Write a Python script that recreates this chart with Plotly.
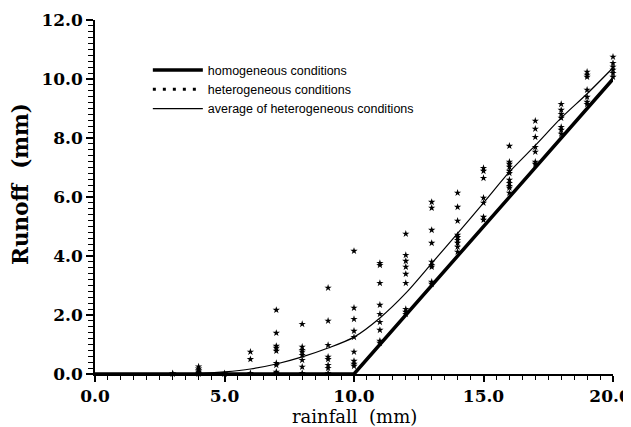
import plotly.graph_objects as go

# Homogeneous conditions (threshold response)
homog_rainfall = [0, 10, 20]
homog_runoff = [0.0, 0.0, 10.0]

# Average of heterogeneous conditions
avg_rainfall = [0, 1, 2, 3, 4, 5, 6, 7, 8, 9, 10, 11, 12, 13, 14, 15, 16, 17, 18, 19, 20]
avg_runoff = [0.0, 0.0, 0.0, 0.0, 0.01, 0.07, 0.17, 0.34, 0.58, 0.88, 1.25, 1.9, 2.74,
              3.75, 4.77, 5.8, 6.85, 7.75, 8.68, 9.5, 10.38]

# Heterogeneous conditions (individual simulations)
het_rainfall = (
    [3, 3]
    + [4] * 6
    + [5] * 2
    + [6] * 3
    + [7] * 9
    + [8] * 8
    + [9] * 8
    + [10] * 9
    + [11] * 9
    + [12] * 9
    + [13] * 9
    + [14] * 9
    + [15] * 7
    + [16] * 11
    + [17] * 7
    + [18] * 7
    + [19] * 7
    + [20] * 6
)
het_runoff = (
    [0.0, 0.02]
    + [0.25, 0.18, 0.12, 0.07, 0.03, 0.0]
    + [0.02, 0.0]
    + [0.75, 0.5, 0.03]
    + [2.17, 1.39, 0.95, 0.88, 0.78, 0.37, 0.3, 0.07, 0.03]
    + [1.69, 0.92, 0.81, 0.75, 0.64, 0.47, 0.24, 0.03]
    + [2.92, 1.8, 0.98, 0.58, 0.5, 0.3, 0.2, 0.03]
    + [4.17, 2.24, 1.86, 1.46, 1.25, 0.75, 0.44, 0.34, 0.27]
    + [3.76, 3.69, 3.08, 2.34, 2.03, 1.76, 1.49, 1.12, 1.05]
    + [4.75, 4.03, 3.83, 3.63, 3.39, 3.08, 2.2, 2.1, 2.03]
    + [5.83, 5.63, 4.88, 4.44, 3.8, 3.69, 3.63, 3.12, 3.05]
    + [6.14, 5.66, 5.19, 4.71, 4.64, 4.54, 4.44, 4.31, 4.14]
    + [6.98, 6.88, 6.64, 5.97, 5.8, 5.32, 5.22]
    + [7.73, 7.19, 7.12, 7.02, 6.88, 6.81, 6.58, 6.47, 6.37, 6.31, 6.14]
    + [8.58, 8.31, 8.03, 7.69, 7.53, 7.19, 7.12]
    + [9.15, 8.95, 8.81, 8.68, 8.37, 8.27, 8.14]
    + [10.24, 10.14, 10.07, 9.63, 9.39, 9.22, 9.15]
    + [10.75, 10.54, 10.41, 10.31, 10.2, 10.07]
)

x_ticks = [0, 5, 10, 15, 20]
x_tick_labels = ["0.0", "5.0", "10.0", "15.0", "20.0\u00a0"]
y_ticks = [0, 2, 4, 6, 8, 10, 12]
y_tick_labels = ["0.0", "2.0", "4.0", "6.0", "8.0", "10.0", "12.0"]

x_title = "rainfall  (mm)"
y_title = "Runoff  (mm)"

fig = go.Figure()

fig.add_trace(go.Scatter(
    x=homog_rainfall, y=homog_runoff, mode="lines",
    line=dict(color="black", width=3.5),
    name="homogeneous conditions", cliponaxis=False,
))
# legend-only entry mimicking a row of stars
fig.add_trace(go.Scatter(
    x=[None], y=[None], mode="lines",
    line=dict(color="black", width=3, dash="3px,7px"),
    name="heterogeneous conditions",
))
fig.add_trace(go.Scatter(
    x=avg_rainfall, y=avg_runoff, mode="lines",
    line=dict(color="black", width=1.2, shape="spline", smoothing=0.8),
    name="average of heterogeneous conditions", cliponaxis=False,
))
fig.add_trace(go.Scatter(
    x=het_rainfall, y=het_runoff, mode="markers",
    marker=dict(symbol="star", size=5.5, color="black"),
    name="heterogeneous conditions", showlegend=False, cliponaxis=False,
))

# The page body has an 8px margin, so the figure is 8px smaller than the window
fig.update_layout(
    width=623, height=419,
    margin=dict(l=87, r=18, t=12, b=53),
    paper_bgcolor="white", plot_bgcolor="white",
    showlegend=True,
    legend=dict(
        x=0.102, y=0.9, xanchor="left", yanchor="top",
        font=dict(family="Liberation Sans, Arial, sans-serif", size=12.5, color="black"),
        bgcolor="rgba(0,0,0,0)", itemwidth=50, tracegroupgap=0,
    ),
    xaxis=dict(
        range=[0, 20], tickvals=x_ticks, ticktext=x_tick_labels,
        automargin=False, ticklabeloverflow="allow",
        showline=True, linecolor="black", linewidth=1.5,
        ticks="outside", ticklen=6, tickwidth=1.5, tickcolor="black",
        minor=dict(dtick=0.5, ticks="outside", ticklen=4, tickwidth=1, tickcolor="black"),
        showgrid=False, zeroline=False,
        tickfont=dict(family="DejaVu Serif", size=17, color="black", weight="bold"),
    ),
    yaxis=dict(
        range=[0, 12], tickvals=y_ticks, ticktext=y_tick_labels,
        automargin=False, ticklabeloverflow="allow",
        showline=True, linecolor="black", linewidth=1.5,
        ticks="outside", ticklen=7, tickwidth=1.5, tickcolor="black",
        minor=dict(dtick=0.2, ticks="outside", ticklen=5, tickwidth=1, tickcolor="black"),
        showgrid=False, zeroline=False,
        tickfont=dict(family="DejaVu Serif", size=17, color="black", weight="bold"),
    ),
    annotations=[
        dict(
            text=y_title, textangle=-90, showarrow=False,
            xref="paper", yref="paper", x=0, y=0.537, xanchor="center", yanchor="middle",
            xshift=-74,
            font=dict(family="DejaVu Serif", size=21.5, color="black", weight="bold"),
        ),
        dict(
            text=x_title, showarrow=False,
            xref="paper", yref="paper", x=0.5, y=0, xanchor="center", yanchor="middle",
            yshift=-42,
            font=dict(family="DejaVu Serif", size=18, color="black"),
        ),
    ],
)

fig.write_html("out.html")
